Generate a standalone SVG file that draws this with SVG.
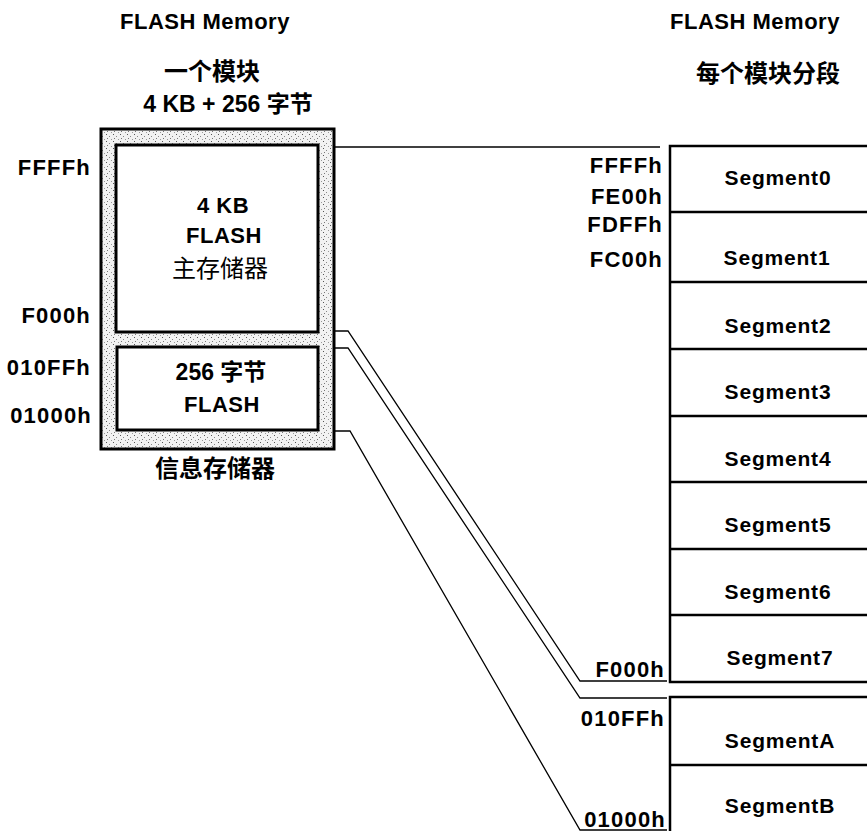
<svg xmlns="http://www.w3.org/2000/svg" width="867" height="831" viewBox="0 0 867 831">
<style>
.lat{font-family:"Liberation Sans",Arial,sans-serif;font-weight:bold;font-size:22px;fill:#000;letter-spacing:0.5px}
.adr{letter-spacing:1.2px}
.seg{font-family:"Liberation Sans",Arial,sans-serif;font-weight:bold;font-size:21px;fill:#000;text-anchor:middle;letter-spacing:0.8px}
.cjk{font-family:"Liberation Sans","Noto Sans CJK SC",sans-serif;font-size:24px;fill:#000}
.b{font-weight:bold}
.r{text-anchor:end}
.m{text-anchor:middle}
.box{fill:#fff;stroke:#000;stroke-width:3}
.seg-line{stroke:#000;stroke-width:2.5;fill:none}
.conn{stroke:#000;stroke-width:1.3;fill:none}
</style>
<defs>
<pattern id="stip" width="7" height="7" patternUnits="userSpaceOnUse">
<rect width="7" height="7" fill="#f2f2f2"/>
<rect x="1" y="1" width="1" height="1" fill="#555"/>
<rect x="4" y="3" width="1" height="1" fill="#888"/>
<rect x="2" y="5" width="1" height="1" fill="#777"/>
<rect x="6" y="6" width="1" height="1" fill="#999"/>
</pattern>
</defs>

<g id="left-titles">
<text class="lat m" x="205" y="29">FLASH Memory</text>
<text class="cjk b m" x="212" y="80">一个模块</text>
<text class="cjk b m" x="228" y="112" style="font-size:23px">4 KB + 256 字节</text>
</g>

<g id="flash-module">
<rect x="101" y="129" width="233" height="320" fill="url(#stip)" stroke="#000" stroke-width="3"/>
</g>
<g id="main-memory">
<rect class="box" x="116" y="145" width="202" height="187"/>
<text class="lat m" x="223" y="213">4 KB</text>
<text class="lat m" x="224" y="243">FLASH</text>
<text class="cjk m" x="220" y="277">主存储器</text>
</g>
<g id="info-memory">
<rect class="box" x="117" y="347" width="201" height="83"/>
<text class="cjk b m" x="221" y="380" style="font-size:23px">256 字节</text>
<text class="lat m" x="222" y="412">FLASH</text>
<text class="cjk b m" x="215" y="477">信息存储器</text>
</g>

<g id="left-addresses">
<text class="lat adr r" x="91" y="175">FFFFh</text>
<text class="lat adr r" x="91" y="323">F000h</text>
<text class="lat adr r" x="91" y="375">010FFh</text>
<text class="lat adr r" x="92" y="423">01000h</text>
</g>

<g id="right-titles">
<text class="lat m" x="755" y="29">FLASH Memory</text>
<text class="cjk b m" x="768" y="82">每个模块分段</text>
</g>

<g id="segments">
<path class="seg-line" d="M867 146 H670 V682 H867 M867 697 H670 V831"/>
<path class="seg-line" d="M670 212 H867 M670 282 H867 M670 349 H867 M670 416 H867 M670 482 H867 M670 549 H867 M670 615 H867 M670 765 H867"/>
<text class="seg" x="778" y="185">Segment0</text>
<text class="seg" x="777" y="265">Segment1</text>
<text class="seg" x="778" y="333">Segment2</text>
<text class="seg" x="778" y="399">Segment3</text>
<text class="seg" x="778" y="466">Segment4</text>
<text class="seg" x="778" y="532">Segment5</text>
<text class="seg" x="778" y="599">Segment6</text>
<text class="seg" x="780" y="665">Segment7</text>
<text class="seg" x="780" y="748">SegmentA</text>
<text class="seg" x="780" y="813">SegmentB</text>
</g>

<g id="right-addresses">
<text class="lat adr r" x="663" y="173">FFFFh</text>
<text class="lat adr r" x="663" y="204">FE00h</text>
<text class="lat adr r" x="663" y="232">FDFFh</text>
<text class="lat adr r" x="663" y="267">FC00h</text>
<text class="lat adr r" x="665" y="677">F000h</text>
<text class="lat adr r" x="665" y="726">010FFh</text>
<text class="lat adr r" x="666" y="827">01000h</text>
</g>

<g id="connectors">
<path class="conn" d="M334 147 H660"/>
<path class="conn" d="M334 331 H348 L580 681 H667"/>
<path class="conn" d="M334 348 H348 L580 698 H667"/>
<path class="conn" d="M334 431 H350 L580 830 H667"/>
</g>
</svg>
